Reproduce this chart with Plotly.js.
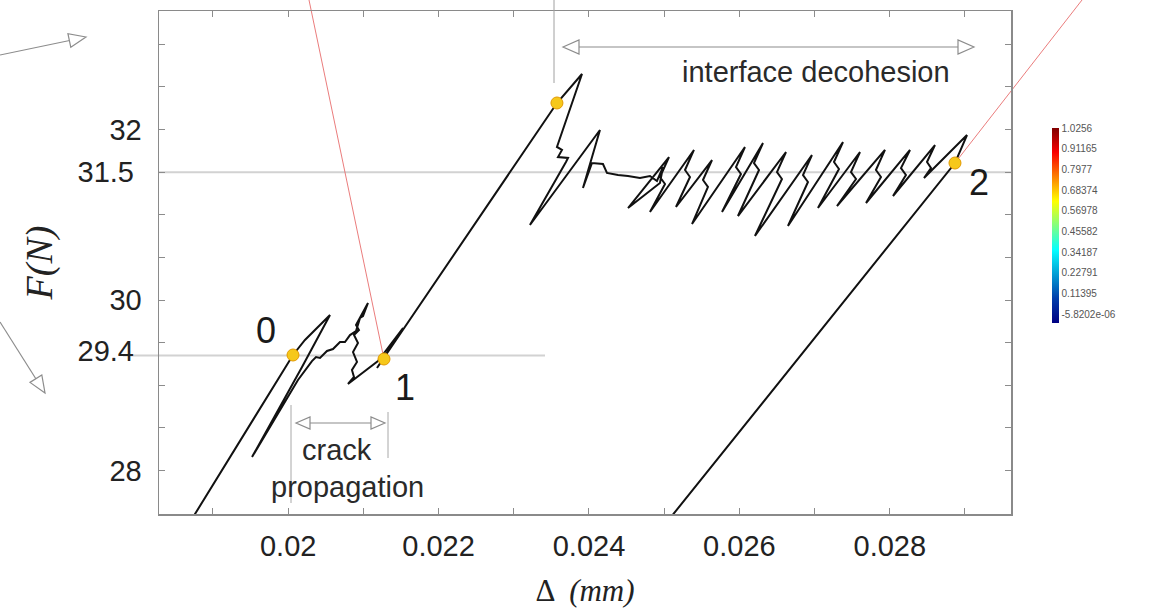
<!DOCTYPE html>
<html>
<head>
<meta charset="utf-8">
<script src="https://cdn.plot.ly/plotly-3.0.1.min.js"></script>
<style>
html,body{margin:0;padding:0;background:#fff;}
#chart{width:1150px;height:615px;}
</style>
</head>
<body>
<div id="chart"></div>
<script>
// ---------------- data ----------------
const curveX = [
  0.018695, 0.020064, 0.020223, 0.020556, 0.020184, 0.019519, 0.020130, 0.020316, 0.020370, 0.020423,
  0.020516, 0.020596, 0.020689, 0.020755, 0.020822, 0.020902, 0.020955, 0.020995, 0.021061, 0.020902,
  0.020941, 0.020875, 0.020928, 0.020862, 0.020915, 0.020848, 0.020875, 0.020795, 0.021194, 0.021527,
  0.021181, 0.023574, 0.023907, 0.023574, 0.023641, 0.023588, 0.023721, 0.023694, 0.023215, 0.024146,
  0.023920, 0.024040, 0.024186, 0.024239, 0.024386, 0.024519, 0.024678, 0.024811, 0.024904, 0.024984,
  0.024944, 0.024519, 0.025064,
  0.024944, 0.025011, 0.024811, 0.025396,
  0.025277, 0.025343, 0.025157, 0.025636,
  0.025516, 0.025582, 0.025370, 0.026074,
  0.025955, 0.026021, 0.025769, 0.026314,
  0.026194, 0.026261, 0.025981, 0.026620,
  0.026500, 0.026566, 0.026207, 0.026965,
  0.026846, 0.026912, 0.026646, 0.027378,
  0.027258, 0.027324, 0.027045, 0.027604,
  0.027484, 0.027551, 0.027298, 0.027936,
  0.027816, 0.027883, 0.027684, 0.028269,
  0.028149, 0.028215, 0.028043, 0.028601,
  0.028495, 0.028548, 0.028455, 0.029027,
  0.028867, 0.025037
];
const curveY = [
  27.396, 29.355, 29.531, 29.824, 29.214, 28.158, 29.062, 29.284, 29.331, 29.320,
  29.402, 29.425, 29.507, 29.507, 29.589, 29.636, 29.789, 29.812, 29.965, 29.707,
  29.648, 29.589, 29.496, 29.390, 29.273, 29.179, 29.097, 29.015, 29.284, 29.672,
  29.202, 32.311, 32.651, 31.795, 31.760, 31.677, 31.666, 31.619, 30.880, 31.994,
  31.314, 31.607, 31.595, 31.490, 31.466, 31.455, 31.431, 31.455, 31.396, 31.560,
  31.372, 31.079, 31.677,
  31.443, 31.361, 31.032, 31.760,
  31.525, 31.443, 31.091, 31.642,
  31.408, 31.326, 30.891, 31.795,
  31.560, 31.478, 31.032, 31.842,
  31.607, 31.525, 30.985, 31.736,
  31.501, 31.419, 30.751, 31.701,
  31.466, 31.384, 30.868, 31.853,
  31.619, 31.537, 31.079, 31.736,
  31.501, 31.419, 31.103, 31.760,
  31.525, 31.443, 31.138, 31.760,
  31.548, 31.466, 31.220, 31.818,
  31.619, 31.548, 31.431, 31.935,
  31.607, 27.396
];
const pointX = [0.020064, 0.021274, 0.023574, 0.028867];
const pointY = [29.355, 29.308, 32.311, 31.607];
const pointNames = ['0', '1', '', '2'];

const xTickVals = [0.019, 0.020, 0.021, 0.022, 0.023, 0.024, 0.025, 0.026, 0.027, 0.028, 0.029];
const xTickText = ['', '0.02', '', '0.022', '', '0.024', '', '0.026', '', '0.028', ''];
const yTickVals = [27.5, 28, 28.5, 29, 29.5, 30, 30.5, 31, 31.5, 32, 32.5, 33];
const yTickText = ['', '28', '', '', '', '30', '', '', '', '32', '', ''];
const yMarkVals = [29.4, 31.5];
const yMarkText = ['29.4', '31.5'];

const cbVals = [1.0256, 0.91165, 0.7977, 0.68374, 0.56978, 0.45582, 0.34187, 0.22791, 0.11395, -5.8202e-06];
const cbText = ['1.0256', '0.91165', '0.7977', '0.68374', '0.56978', '0.45582', '0.34187', '0.22791', '0.11395', '-5.8202e-06'];

// ---------------- geometry helpers ----------------
const xRange = [0.018282, 0.029612];
const yRange = [27.49, 33.39];
const M = {l: 159, r: 139, t: 11, b: 101};
const PW = 1150 - M.l - M.r;
const PH = 615 - M.t - M.b;
const pxX = px => (px - M.l) / PW;
const pxY = py => (615 - M.b - py) / PH;
const dX = x => (x - xRange[0]) / (xRange[1] - xRange[0]);
const dY = y => (y - yRange[0]) / (yRange[1] - yRange[0]);

const GREY = '#8c8c8c';
function line(x0, y0, x1, y1, color, width, layer) {
  return {type: 'line', xref: 'paper', yref: 'paper', x0: x0, y0: y0, x1: x1, y1: y1,
          line: {color: color, width: width}, layer: layer || 'above'};
}
function head(tx, ty, fx, fy, len, half) {
  const dx = tx - fx, dy = ty - fy, n = Math.hypot(dx, dy);
  const ux = dx / n, uy = dy / n, nx = -uy, ny = ux;
  const bx = -ux * len, by = -uy * len;
  const c1x = bx + nx * half, c1y = by + ny * half, c2x = bx - nx * half, c2y = by - ny * half;
  return {type: 'path', xref: 'paper', yref: 'paper', xsizemode: 'pixel', ysizemode: 'pixel',
          xanchor: pxX(tx), yanchor: pxY(ty),
          path: 'M 0 0 L ' + c1x.toFixed(2) + ' ' + (-c1y).toFixed(2) + ' L ' + c2x.toFixed(2) + ' ' + (-c2y).toFixed(2) + ' Z',
          fillcolor: 'white', line: {color: GREY, width: 1.2}};
}

const shapes = [
  // reference levels
  {type: 'line', xref: 'paper', yref: 'y', x0: 0, x1: 1, y0: 31.5, y1: 31.5, line: {color: '#d2d2d2', width: 2}, layer: 'below'},
  {type: 'line', xref: 'paper', yref: 'y', x0: pxX(123), x1: pxX(545), y0: 29.35, y1: 29.35, line: {color: '#d2d2d2', width: 2}, layer: 'below'},
  // red leader lines
  line(dX(pointX[1]), dY(pointY[1]), pxX(309), pxY(0), 'rgba(232,110,110,0.9)', 1, 'below'),
  line(dX(pointX[3]), dY(pointY[3]), pxX(1082), pxY(0), 'rgba(232,110,110,0.9)', 1, 'below'),
  // interface decohesion marker
  line(pxX(554), pxY(83), pxX(554), pxY(0), '#a0a0a0', 1),
  line(pxX(570), pxY(47), pxX(968), pxY(47), GREY, 1.2),
  head(563, 47, 980, 47, 16, 7),
  head(974, 47, 550, 47, 16, 7),
  // crack propagation marker
  line(pxX(291), pxY(405), pxX(291), pxY(503), '#a8a8a8', 1),
  line(pxX(388), pxY(412), pxX(388), pxY(458), '#a8a8a8', 1),
  line(pxX(302), pxY(423), pxX(379), pxY(423), GREY, 1.2),
  head(296, 423, 390, 423, 14, 6),
  head(385, 423, 290, 423, 14, 6),
  // arrows on the left edge
  line(pxX(0), pxY(55), pxX(72), pxY(40), GREY, 1.2),
  head(86, 37, 0, 55, 17, 7),
  line(pxX(0), pxY(322), pxX(36), pxY(379), GREY, 1.2),
  head(45, 393, 0, 322, 17, 7)
];

const textFont = {family: 'Liberation Sans, Arial, sans-serif', size: 29, color: '#2a2a2a'};
const annotations = [
  {xref: 'paper', yref: 'paper', x: pxX(816), y: pxY(72), text: 'interface decohesion', showarrow: false, font: textFont, xanchor: 'center', yanchor: 'middle'},
  {xref: 'paper', yref: 'paper', x: pxX(337), y: pxY(450), text: 'crack', showarrow: false, font: textFont, xanchor: 'center', yanchor: 'middle'},
  {xref: 'paper', yref: 'paper', x: pxX(347), y: pxY(487), text: 'propagation', showarrow: false, font: textFont, xanchor: 'center', yanchor: 'middle'}
];
const labelShift = [[-27, 25], [21, -28], [0, 0], [24, -19]];
pointNames.forEach((name, i) => {
  if (!name) return;
  annotations.push({xref: 'x', yref: 'y', x: pointX[i], y: pointY[i], text: name, showarrow: false,
    xshift: labelShift[i][0], yshift: labelShift[i][1],
    font: {family: 'Liberation Sans, Arial, sans-serif', size: 36, color: '#1a1a1a'}});
});

const traces = [
  {type: 'scatter', mode: 'lines', x: curveX, y: curveY, line: {color: '#111', width: 2}, hoverinfo: 'x+y', showlegend: false},
  {type: 'scatter', mode: 'markers', x: pointX, y: pointY, showlegend: false,
   marker: {size: 12, color: '#f6c81a', line: {color: '#e39a00', width: 1}}},
  {type: 'scatter', mode: 'markers', x: [pointX[0]], y: [pointY[0]], yaxis: 'y2', showlegend: false, hoverinfo: 'skip',
   marker: {size: 1, opacity: 0, color: [cbVals[5]], cmin: -0.0496, cmax: cbVals[0], colorscale: 'Jet', showscale: true,
     colorbar: {x: pxX(1052), xanchor: 'left', xpad: 0, y: pxY(225.5), yanchor: 'middle', ypad: 0,
       len: 195 / PH, lenmode: 'fraction', thickness: 7, outlinewidth: 0, ticks: '',
       tickmode: 'array', tickvals: cbVals, ticktext: cbText,
       tickfont: {family: 'Liberation Sans Narrow, Liberation Sans, Arial', size: 10, color: '#555'}}}}
];

const axisFont = {family: 'Liberation Sans, Arial, sans-serif', size: 29, color: '#222'};
const layout = {
  width: 1150, height: 615,
  margin: {l: M.l, r: M.r, t: M.t, b: M.b, autoexpand: false},
  paper_bgcolor: '#ffffff', plot_bgcolor: 'rgba(0,0,0,0)',
  showlegend: false,
  xaxis: {range: xRange, tickmode: 'array', tickvals: xTickVals, ticktext: xTickText,
    ticks: 'inside', ticklen: 6, tickcolor: GREY, tickwidth: 1, showline: true, linecolor: '#8a8a8a', linewidth: 1.5,
    mirror: 'ticks', showgrid: false, zeroline: false, tickfont: axisFont, ticklabelstandoff: 6,
    title: {text: 'Δ  <i>(mm)</i>', font: {family: 'Liberation Serif, serif', size: 31, color: '#222'}, standoff: 18}},
  yaxis: {range: yRange, tickmode: 'array', tickvals: yTickVals, ticktext: yTickText,
    ticks: 'inside', ticklen: 6, tickcolor: GREY, tickwidth: 1, showline: true, linecolor: '#8a8a8a', linewidth: 1.5,
    mirror: 'ticks', showgrid: false, zeroline: false, tickfont: axisFont, ticklabelstandoff: 10,
    title: {text: '<i>F(N)</i>', font: {family: 'Liberation Serif, serif', size: 38, color: '#222'}, standoff: 45}},
  yaxis2: {range: yRange, overlaying: 'y', anchor: 'x', side: 'left', tickmode: 'array', tickvals: yMarkVals, ticktext: yMarkText,
    ticks: '', showline: false, showgrid: false, zeroline: false, tickfont: axisFont, ticklabelstandoff: 24},
  shapes: shapes,
  annotations: annotations
};

Plotly.newPlot('chart', traces, layout, {displayModeBar: false, staticPlot: true});
</script>
</body>
</html>
